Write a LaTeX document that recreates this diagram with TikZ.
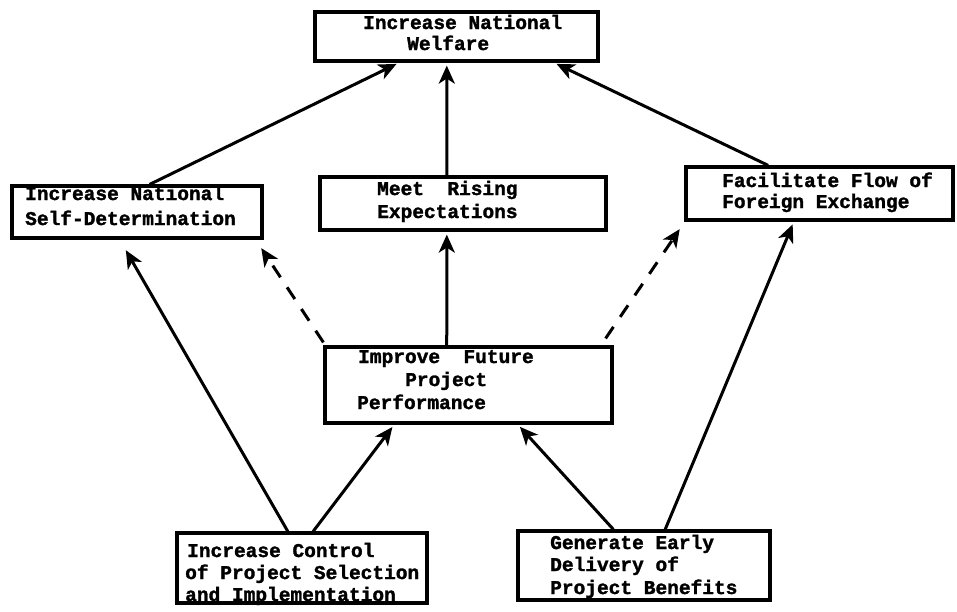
\documentclass[tikz,border=0pt]{standalone}
\usepackage{fontspec}
\newfontfamily\typew[BoldFeatures={FakeBold=1.6}]{Liberation Mono}
\usetikzlibrary{arrows.meta,calc}

\tikzset{
  box/.style={draw, line width=3.2pt, inner sep=0pt, rectangle},
  txt/.style={anchor=base west, inner sep=0pt,
    font=\typew\bfseries\fontsize{19.5}{22}\selectfont},
  link/.style={line width=3pt, -{Stealth[length=18pt,width=16pt,inset=5pt]},
    shorten >=3pt},
  dlink/.style={link, dash pattern=on 14pt off 12pt}
}

\begin{document}
\begin{tikzpicture}[x=1pt,y=-1pt]
\useasboundingbox[fill=white] (0,0) rectangle (957,611);

% boxes (centres and sizes)
\node[box, minimum width=283, minimum height=49] (wel) at (456.5,36.5) {};
\node[box, minimum width=250, minimum height=52] (sdt) at (137,212) {};
\node[box, minimum width=286, minimum height=53] (mre) at (463,203.5) {};
\node[box, minimum width=267, minimum height=53] (ffe) at (819.5,193.5) {};
\node[box, minimum width=287, minimum height=76] (ipp) at (468.5,385) {};
\node[box, minimum width=250, minimum height=70] (icp) at (302,568) {};
\node[box, minimum width=252, minimum height=69] (geb) at (644,565.5) {};

% labels
\node[txt] (wel1) at (363,29) {Increase National};
\node[txt] (wel2) at (407,50) {Welfare};
\node[txt] (sdt1) at (25,200) {Increase National};
\node[txt] (sdt2) at (25,225) {Self-Determination};
\node[txt] (mre1) at (377,195) {Meet\ \ Rising};
\node[txt] (mre2) at (377,218) {Expectations};
\node[txt] (ffe1) at (722,187) {Facilitate Flow of};
\node[txt] (ffe2) at (722,208) {Foreign Exchange};
\node[txt] (ipp1) at (358,363) {Improve\ \ Future};
\node[txt] (ipp2) at (405,386) {Project};
\node[txt] (ipp3) at (357,409) {Performance};
\node[txt] (icp1) at (187,557) {Increase Control};
\node[txt] (icp2) at (185,579) {of Project Selection};
\node[txt] (icp3) at (185,601) {and Implementation};
\node[txt] (geb1) at (550,549) {Generate Early};
\node[txt] (geb2) at (550,571) {Delivery of};
\node[txt] (geb3) at (550,594) {Project Benefits};

% solid links
\draw[link] ($(sdt.north west)!0.55!(sdt.north east)$) -- ($(wel.south west)!0.30!(wel.south east)$);
\draw[link] ($(mre.north west)!0.444!(mre.north east)$) -- ($(wel.south west)!0.466!(wel.south east)$);
\draw[link] ($(ffe.north west)!0.31!(ffe.north east)$) -- ($(wel.south west)!0.84!(wel.south east)$);
\draw[link] ($(ipp.north west)!0.425!(ipp.north east)$) -- ($(mre.south west)!0.444!(mre.south east)$);
\draw[link] ($(icp.north west)!0.444!(icp.north east)$) -- ($(sdt.south west)!0.45!(sdt.south east)+(0,8)$);
\draw[link] ($(icp.north west)!0.544!(icp.north east)$) -- ($(ipp.south west)!0.244!(ipp.south east)$);
\draw[link] ($(geb.north west)!0.38!(geb.north east)$) -- ($(ipp.south west)!0.67!(ipp.south east)$);
\draw[link] ($(geb.north west)!0.583!(geb.north east)$) -- ($(ffe.south west)!0.405!(ffe.south east)$);

% dashed links
\draw[dlink] ($(ipp.north west)+(0,-3)$) -- ($(sdt.south east)+(-4,6)$);
\draw[dlink] ($(ipp.north east)+(-8,-7)$) -- ($(ffe.south west)+(-3,5)$);
\end{tikzpicture}
\end{document}
